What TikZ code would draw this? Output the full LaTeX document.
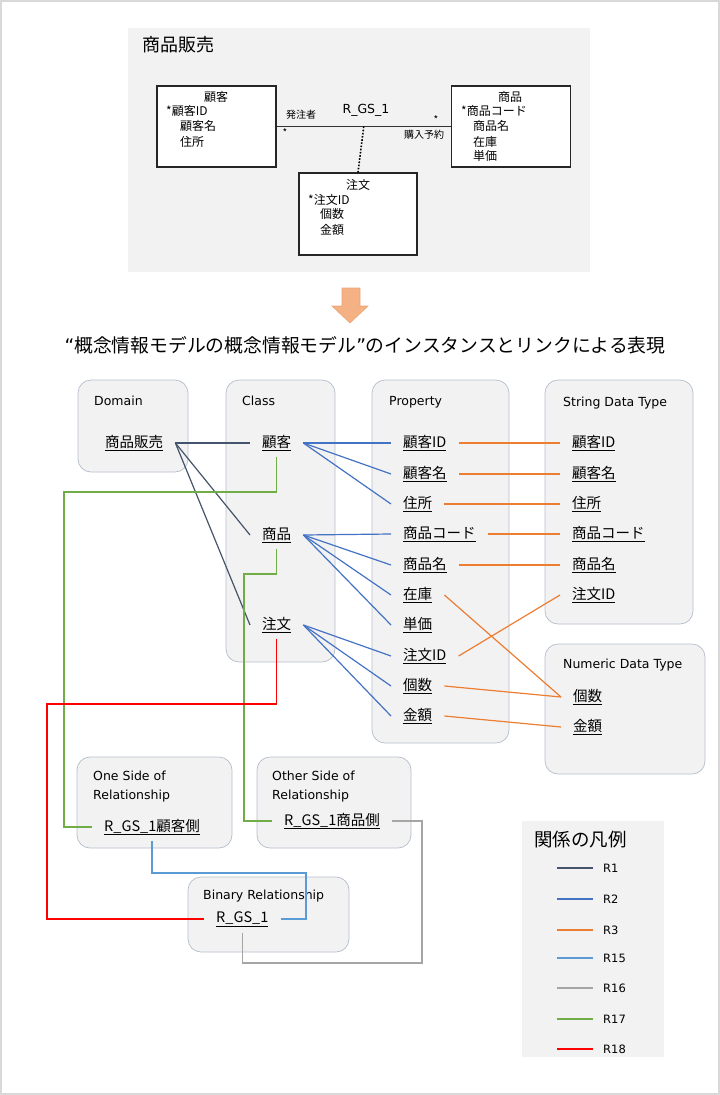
\documentclass[tikz,border=0pt]{standalone}
\usepackage{fontspec}
\setmainfont{DejaVu Sans}
\newfontfamily\jp{Noto Sans CJK JP}

\definecolor{panelgray}{HTML}{F2F2F2}
\definecolor{paneledge}{HTML}{B4BDCC}
\definecolor{arrowfill}{HTML}{F4B183}
\definecolor{arrowedge}{HTML}{EBA576}
\definecolor{relR1}{HTML}{44546A}
\definecolor{relR2}{HTML}{4472C4}
\definecolor{relR3}{HTML}{ED7D31}
\definecolor{relR15}{HTML}{5B9BD5}
\definecolor{relR16}{HTML}{A5A5A5}
\definecolor{relR17}{HTML}{70AD47}
\definecolor{relR18}{HTML}{FF0000}

\begin{document}
\begin{tikzpicture}[x=1pt, y=-1pt,
    panel/.style={draw=paneledge, fill=panelgray, line width=0.7pt, rounded corners=13pt},
    heading/.style={anchor=west, inner sep=0pt, align=left, font=\fontsize{12.5}{19}\selectfont},
    item/.style={anchor=west, inner xsep=12pt, inner ysep=6pt, font=\jp\fontsize{14.5}{17}\selectfont},
    link/.style={line width=1.2pt},
    erbox/.style={draw=black!85, fill=white, line width=1.2pt},
    ertext/.style={inner sep=0pt, font=\jp\fontsize{12}{14}\selectfont},
    ersmall/.style={inner sep=0pt, font=\jp\fontsize{10}{12}\selectfont}]
  \useasboundingbox (0,0) rectangle (720,1095);
  \draw[black!15, line width=1.5pt] (1,1) rectangle (719,1094);

  % the source model
  \fill[panelgray] (128,28) rectangle (590,272);
  \node[anchor=west, inner sep=0pt, font=\jp\fontsize{18}{20}\selectfont] (domtitle) at (142,45) {商品販売};
  \node[erbox, minimum width=119pt, minimum height=81pt] (erkokyaku) at (216.5,126.5) {};
  \node[erbox, minimum width=119pt, minimum height=81pt] (ershohin) at (511,126.5) {};
  \node[erbox, minimum width=118pt, minimum height=82pt] (erchumon) at (358,214) {};
  \draw[black!80, line width=0.8pt] (erkokyaku.east) -- coordinate (assoc) (ershohin.west);
  \draw[line width=1.6pt, dash pattern=on 1.6pt off 1.6pt] (assoc) -- (erchumon.north);
  \node[inner sep=0pt, font=\fontsize{12.5}{14}\selectfont] (relname) at (366,110) {R\_GS\_1};
  \node[ersmall] (rolea) at (301,115) {発注者};
  \node[ersmall] (roleb) at (424,135) {購入予約};
  \node[ersmall] (multa) at (285,133) {*};
  \node[ersmall] (multb) at (436,120) {*};
  % attributes of the source classes
  \node[ertext] at (216,97) {顧客};
  \node[ertext, anchor=west] at (166,111) {*顧客ID};
  \node[ertext, anchor=west] at (180,126) {顧客名};
  \node[ertext, anchor=west] at (180,142) {住所};
  \node[ertext] at (510,97) {商品};
  \node[ertext, anchor=west] at (461,111) {*商品コード};
  \node[ertext, anchor=west] at (473,126) {商品名};
  \node[ertext, anchor=west] at (473,142) {在庫};
  \node[ertext, anchor=west] at (473,156) {単価};
  \node[ertext] at (358,185) {注文};
  \node[ertext, anchor=west] at (308,200) {*注文ID};
  \node[ertext, anchor=west] at (320,214) {個数};
  \node[ertext, anchor=west] at (320,230) {金額};

  % the arrow and the caption
  \draw[fill=arrowfill, draw=arrowedge, line width=0.6pt] (342,288) -- (360,288) -- (360,306) -- (368,306)
    -- (350,323) -- (332,306) -- (342,306) -- cycle;
  \node[inner sep=0pt, font=\jp\fontsize{18.8}{20}\selectfont] (caption) at (365,345)
    {{\normalfont “}概念情報モデルの概念情報モデル{\normalfont ”}のインスタンスとリンクによる表現};

  % the meta-model panels
  \draw[panel] (78,380) rectangle (188,472);
  \draw[panel] (226,380) rectangle (335,662);
  \draw[panel] (372,380) rectangle (509,743);
  \draw[panel] (545,380) rectangle (693,624);
  \draw[panel] (545,644) rectangle (705,774);
  \draw[panel] (77,757) rectangle (232,848);
  \draw[panel] (257,757) rectangle (411,848);
  \draw[panel] (188,877) rectangle (349,952);
  \node[heading] at (94,401) {Domain};
  \node[heading] at (242,401) {Class};
  \node[heading] at (389,402) {Property};
  \node[heading] at (563,403) {String Data Type};
  \node[heading] at (563,665) {Numeric Data Type};
  \node[heading] at (93,786.5) {One Side of\\Relationship};
  \node[heading] at (272,786.5) {Other Side of\\Relationship};
  \node[heading] at (203,896) {Binary Relationship};

  % the instances
  \node[item] (hanbai) at (93,443) {\underline{商品販売}};
  \foreach \name/\txt/\y in {kokyaku/顧客/443, shohin/商品/535, chumon/注文/625}
    \node[item] (\name) at (250,\y) {\underline{\txt}};
  \foreach \name/\txt/\y in {pkokyakuid/顧客ID/443, pkokyakumei/顧客名/474, pjusho/住所/504,
      pshohincode/商品コード/534, pshohinmei/商品名/565, pzaiko/在庫/595, ptanka/単価/625,
      pchumonid/注文ID/656, pkosu/個数/686, pkingaku/金額/716}
    \node[item] (\name) at (391,\y) {\underline{\txt}};
  \foreach \name/\txt/\y in {skokyakuid/顧客ID/443, skokyakumei/顧客名/474, sjusho/住所/504,
      sshohincode/商品コード/534, sshohinmei/商品名/565, schumonid/注文ID/595}
    \node[item] (\name) at (560,\y) {\underline{\txt}};
  \node[item] (nkosu) at (561,697) {\underline{個数}};
  \node[item] (nkingaku) at (561,727) {\underline{金額}};
  \node[item] (oneside) at (92,827) {\underline{R\_GS\_1顧客側}};
  \node[item] (otherside) at (272,821) {\underline{R\_GS\_1商品側}};
  \node[item] (binrel) at (204,919) {\underline{R\_GS\_1}};

  % the links
  \foreach \c in {kokyaku, shohin, chumon}
    \draw[link, relR1] (hanbai.east) -- (\c.west);
  \foreach \p in {pkokyakuid, pkokyakumei, pjusho}
    \draw[link, relR2] (kokyaku.east) -- (\p.west);
  \foreach \p in {pshohincode, pshohinmei, pzaiko, ptanka}
    \draw[link, relR2] (shohin.east) -- (\p.west);
  \foreach \p in {pchumonid, pkosu, pkingaku}
    \draw[link, relR2] (chumon.east) -- (\p.west);
  \foreach \a/\b in {pkokyakuid/skokyakuid, pkokyakumei/skokyakumei, pjusho/sjusho,
      pshohincode/sshohincode, pshohinmei/sshohinmei, pzaiko/nkosu, pchumonid/schumonid,
      pkosu/nkosu, pkingaku/nkingaku}
    \draw[link, relR3] (\a.east) -- (\b.west);
  \draw[link, relR17] (kokyaku.south) |- (64,492) |- (oneside.west);
  \draw[link, relR17] (shohin.south) |- (244,574) |- (otherside.west);
  \draw[link, relR18] (chumon.south) |- (47,704) |- (binrel.west);
  \draw[link, relR15] (oneside.south) |- (306,873) |- (binrel.east);
  \draw[link, relR16] (binrel.south) |- (422,963) |- (otherside.east);

  % the legend
  \fill[panelgray] (522,821) rectangle (664,1057);
  \node[anchor=west, inner sep=0pt, font=\jp\fontsize{18.5}{20}\selectfont] (legtitle) at (534,840) {関係の凡例};
  \foreach \rel/\y in {R1/868, R2/899, R3/930, R15/958, R16/988, R17/1019, R18/1049} {
    \draw[link, draw=rel\rel] (557,\y) -- (593,\y);
    \node[anchor=west, inner sep=0pt, font=\fontsize{11.5}{13}\selectfont] at (603,\y) {\rel};
  }
\end{tikzpicture}
\end{document}
